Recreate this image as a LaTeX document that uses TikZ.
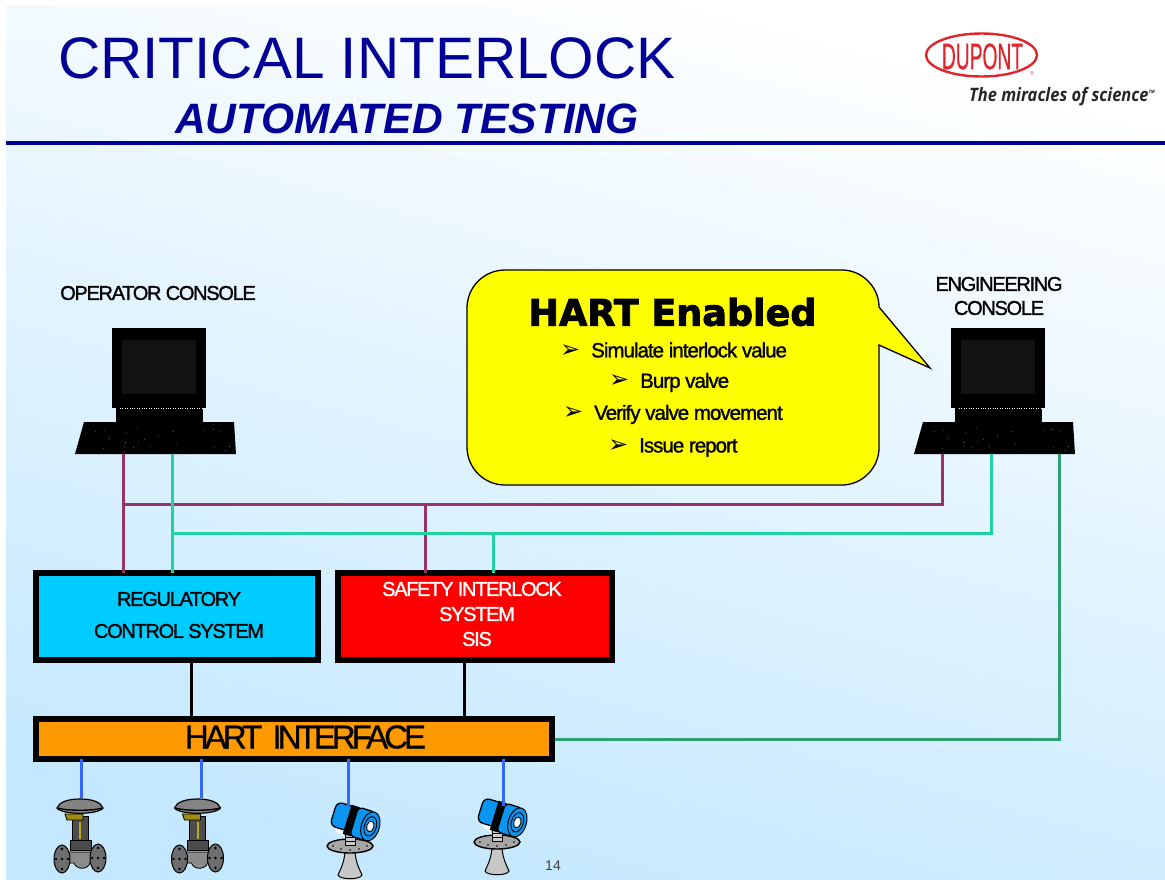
\documentclass[tikz,border=0pt]{standalone}
\usepackage{fontspec}
\usetikzlibrary{shapes.geometric}
\setmainfont{Liberation Sans}
\newfontfamily\lab[LetterSpace=-6.5,FakeBold=1.3]{Liberation Sans}
\newfontfamily\bul[LetterSpace=-4.8,FakeBold=1.3]{Liberation Sans}
\newfontfamily\hartf[LetterSpace=-12,FakeBold=0.8]{Liberation Sans}
\newfontfamily\tagf{Open Sans}
\newfontfamily\head[FakeBold=2.5]{DejaVu Sans}
\newfontfamily\arrowf{DejaVu Sans}
\newfontfamily\logof[FakeBold=0.6]{Liberation Sans}
\definecolor{navy}{HTML}{000099}
\definecolor{purp}{HTML}{993366}
\definecolor{teal}{HTML}{1FD2A0}
\definecolor{dgreen}{HTML}{2FA070}
\definecolor{blu}{HTML}{3366FF}
\definecolor{cyanbox}{HTML}{00CCFF}
\definecolor{orangebox}{HTML}{FF9900}
\definecolor{yel}{HTML}{FFFF00}
\definecolor{redbox}{HTML}{FF0000}
\definecolor{dup}{HTML}{E0262C}
\definecolor{vgrey}{HTML}{6E6E6E}
\definecolor{vgold}{HTML}{A08C10}
\definecolor{tblue}{HTML}{0A96F0}
\definecolor{bgA}{HTML}{FFFFFF}
\definecolor{bgB}{HTML}{C4E8FF}
\tikzset{
  x=1pt,y=-1pt,
  box/.style={draw=black,line width=6pt,inner sep=0pt,outer sep=0pt,anchor=north west},
  lbl/.style={font=\lab\fontsize{20}{24}\selectfont,align=center,inner sep=0pt},
  wire/.style={line width=3pt},
  bullet/.style={font=\bul\fontsize{20.5}{24}\selectfont,inner sep=0pt},
  pics/computer/.style={code={
    \fill[black] (0,0) rectangle (94,80);
    \fill[black!93] (10,12) rectangle (84,66);
    \fill[black] (4,80) -- (91,80) -- (91,94) -- (4,94) -- cycle;
    \fill[black] (-28,94) -- (122,94) -- (124,126) -- (-37,126) -- cycle;
    \draw[white,dotted,line width=.4pt] (8,80) -- (90,80);
    \pgfmathsetseed{7}
    \foreach \k in {1,...,22}{
      \pgfmathsetmacro{\px}{-25+145*rnd}
      \pgfmathsetmacro{\py}{98+26*rnd}
      \fill[white] (\px,\py) circle (.3);
    }
  }},
  pics/valve/.style={code={
    \filldraw[fill=vgrey!85!white,draw=black,line width=1.2pt] (-23,9) .. controls (-21,3) and (-12,0) .. (0,0) .. controls (12,0) and (21,3) .. (23,9) .. controls (18,16) and (-18,16) .. (-23,9) -- cycle;
    \draw[black,line width=1.4pt] (-23,9) .. controls (-12,12) and (12,12) .. (23,9);
    \filldraw[fill=vgrey!70!black,draw=black,line width=1pt] (-8,17) rectangle (8,41);
    \filldraw[fill=vgold,draw=black,line width=.8pt] (-15,15) -- (3,15) -- (3,21) -- (-13,21) -- cycle;
    \fill[vgold!70!yellow] (-1,23) rectangle (1,40);
    \filldraw[fill=black!70,draw=black,line width=1pt] (-10,41) rectangle (11,51);
    \filldraw[fill=vgrey!80!white,draw=black,line width=.8pt] (-14,53) -- (16,53) -- (16,64) -- (10,64) .. controls (8,71) and (-4,71) .. (-6,64) -- (-14,64) -- cycle;
    \filldraw[fill=vgrey,draw=black,line width=1pt] (-18,60) ellipse [x radius=8,y radius=14];
    \filldraw[fill=vgrey,draw=black,line width=1pt] (18,59) ellipse [x radius=8,y radius=14];
    \foreach \u/\v in {-18/50,-18/70,-24/60,-12/60,-18/60,18/49,18/69,12/59,24/59,18/59}{\fill[black] (\u,\v) circle (1.3);}
  }},
  pics/xmtr/.style={code={
    \filldraw[fill=black!22,draw=black,line width=1pt] (-5,30) .. controls (-6,42) and (-10,48) .. (-12,53) .. controls (-10,58) and (10,58) .. (12,53) .. controls (10,48) and (6,42) .. (5,30) -- cycle;
    \filldraw[fill=black!35,draw=black,line width=1.4pt] (0,24) ellipse [x radius=23,y radius=7];
    \foreach \u/\v in {-17/24,-9/27,0/28,9/27,17/24}{\fill[black] (\u,\v) circle (.9);}
    \filldraw[fill=black!20,draw=black,line width=1pt] (-5,11) rectangle (5,23);
    \draw[line width=.8pt] (-5,15) -- (5,15) (-5,19) -- (5,19);
    \begin{scope}[shift={(6,0)},rotate=-17]
      \fill[white] (-22,6) -- (-8,10) -- (-8,17) -- (-16,15) -- cycle;
      \filldraw[fill=tblue,draw=black,line width=1.3pt,rounded corners=6pt] (-24,-14) rectangle (-2,11);
      \filldraw[fill=black,draw=black] (-9,-15) rectangle (-1,15);
      \filldraw[fill=tblue,draw=black,line width=1.3pt,rounded corners=4pt] (-2,-15) rectangle (16,15);
      \filldraw[fill=tblue,draw=black,line width=1pt] (15,0) ellipse [x radius=9,y radius=15];
      \draw[black,line width=.9pt] (15,0) ellipse [x radius=6,y radius=10];
      \filldraw[fill=white,draw=black,line width=.9pt] (15,0) ellipse [x radius=3.6,y radius=5.5];
    \end{scope}
  }},
}
\begin{document}
\begin{tikzpicture}
\useasboundingbox (0,0) rectangle (1165,879);
\fill[white] (0,0) rectangle (1165,879);
\shade[shading=axis,top color=bgA,bottom color=bgB,shading angle=345] (6,5) rectangle (1165,879);
% title
\node (t1) [anchor=base west,inner sep=0pt,text=navy,font=\fontsize{58.5}{64}\selectfont] at (58,78) {CRITICAL INTERLOCK};
\node (t2) [anchor=base west,inner sep=0pt,text=navy,font=\fontsize{42.5}{48}\selectfont\bfseries\itshape] at (175,133) {AUTOMATED TESTING};
\draw[navy,line width=4pt] (6,143) -- (1165,143);
% logo
\draw[dup,line width=2.4pt] (981.5,55) ellipse [x radius=55.5,y radius=21.5];
\node (logot) [text=dup,inner sep=0pt,font=\logof\fontsize{37}{40}\selectfont,anchor=center] at (982.5,56.5) {\scalebox{.52}[1]{DUPONT}};
\node (logor) [text=dup!70,inner sep=0pt,font=\fontsize{6}{6}\selectfont] at (1032,73.5) {\textregistered};
\node (tagl) [anchor=base west,inner sep=0pt,text=black!85,font=\tagf\fontsize{18.5}{20}\selectfont\itshape\bfseries] at (969,101) {\scalebox{.89}[1]{The miracles of science}\raisebox{.7ex}{\fontsize{4.5}{5}\selectfont TM}};
% consoles
\node (oplab) [lbl] at (158,293) {OPERATOR CONSOLE};
\node (enlab) [lbl,align=center] at (999,296) {ENGINEERING\\CONSOLE};
\pic at (112,328) {computer};
\pic at (951,328) {computer};
\coordinate (opp) at (123.5,454);
\coordinate (opt) at (172,454);
\coordinate (enp) at (942,454);
\coordinate (ent) at (991,454);
\coordinate (eng) at (1059,454);
% callout
\filldraw[fill=yel,draw=black,line width=1.3pt] (505,270) -- (842,270) .. controls (862,270) and (879,287) .. (879,307) -- (930,368) -- (879,345) -- (879,448) .. controls (879,468) and (862,485) .. (842,485) -- (505,485) .. controls (484,485) and (467,468) .. (467,447) -- (467,308) .. controls (467,287) and (484,270) .. (505,270) -- cycle;
\node (hart) [inner sep=0pt,font=\head\fontsize{36.5}{40}\selectfont\bfseries] at (672.5,312) {HART Enabled};
\node (b1) [bullet,anchor=west] at (560,350) {\makebox[31pt][l]{\arrowf\fontsize{24}{24}\selectfont ➢}Simulate interlock value};
\node (b2) [bullet,anchor=west] at (609,382.5) {\makebox[31pt][l]{\arrowf\fontsize{24}{24}\selectfont ➢}Burp valve};
\node (b3) [bullet,anchor=west] at (563,414.5) {\makebox[31pt][l]{\arrowf\fontsize{24}{24}\selectfont ➢}Verify valve movement};
\node (b4) [bullet,anchor=west] at (608,447.5) {\makebox[31pt][l]{\arrowf\fontsize{24}{24}\selectfont ➢}Issue report};
% boxes
\node (reg) [box,fill=cyanbox,minimum width=282,minimum height=87] at (36,573) {};
\node (sis) [box,fill=redbox,minimum width=274,minimum height=87] at (338,573) {};
\node (hif) [box,fill=orangebox,minimum width=516,minimum height=40] at (36,719) {};
\node (regt) [lbl] at (179,599) {REGULATORY};
\node (regu) [lbl] at (179,631) {CONTROL SYSTEM};
\node (sist) [lbl,text=white] at (472,589) {SAFETY INTERLOCK};
\node (sisu) [lbl,text=white] at (477,614) {SYSTEM};
\node (sisv) [lbl,text=white] at (477,639) {SIS};
\node (hift) [inner sep=0pt,font=\hartf\fontsize{33}{36}\selectfont] at (305.5,737) {HART\hspace{5pt} INTERFACE};
% connectors
\coordinate (pj) at (123.5,504);
\coordinate (pe) at (942,504);
\coordinate (tj) at (172,533);
\coordinate (te) at (991,533);
\coordinate (ps) at (425,504);
\coordinate (ts) at (493,533);
\draw[wire,purp] (opp) -- (opp |- reg.north);
\draw[wire,purp] (pj) -- (pe) -- (enp);
\draw[wire,purp] (ps) -- (ps |- sis.north);
\draw[wire,teal] (opt) -- (opt |- reg.north);
\draw[wire,teal] (tj) -- (te) -- (ent);
\draw[wire,teal] (ts) -- (ts |- sis.north);
\coordinate (hr) at (555,739);
\draw[wire,dgreen] (hr) -- (hr -| eng) -- (eng);
\coordinate (c1) at (191,663);
\coordinate (c2) at (464,663);
\draw[wire,black] (c1) -- (c1 |- hif.north);
\draw[wire,black] (c2) -- (c2 |- hif.north);
% devices
\pic at (80,799) {valve};
\pic at (197.5,799) {valve};
\pic at (350,822) {xmtr};
\pic at (497,818) {xmtr};
\coordinate (f1) at (81,798);
\coordinate (f2) at (201,798);
\coordinate (f3) at (348,806);
\coordinate (f4) at (503,806);
\foreach \f in {f1,f2,f3,f4}{\draw[wire,blu] (\f |- hif.south) -- (\f);}
\node (pg) [inner sep=0pt,text=black!75,font=\fontsize{14}{16}\selectfont] at (553,866) {14};
\end{tikzpicture}
\end{document}
